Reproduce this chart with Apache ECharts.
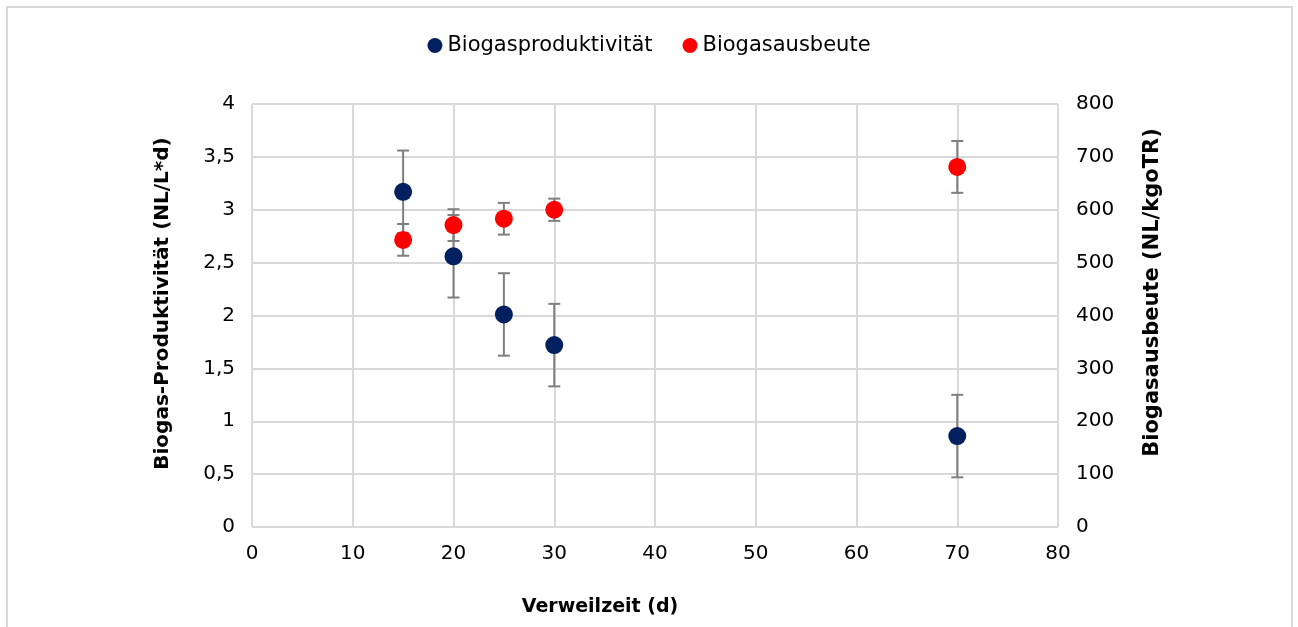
<!DOCTYPE html>
<html>
<head>
<meta charset="utf-8">
<script src="https://cdn.jsdelivr.net/npm/echarts@6/dist/echarts.min.js"></script>
<style>
  html, body { margin: 0; padding: 0; background: #fff; }
  #chart { width: 1298px; height: 627px; }
</style>
</head>
<body>
<div id="chart"></div>
<script>
(function() {
  var font = 'DejaVu Sans, Liberation Sans, Arial, sans-serif';
  var ink = '#000000';
  var rule = '#d9d9d9';
  var errColor = '#7f7f7f';
  var blue = '#002060';
  var red = '#ff0000';

  // Verweilzeit (d)
  var xValues = [15, 20, 25, 30, 70];
  // Biogasproduktivität (NL/L*d) and standard deviation
  var prodValues = [3.17, 2.56, 2.01, 1.72, 0.86];
  var prodErr = [0.39, 0.39, 0.39, 0.39, 0.39];
  // Biogasausbeute (NL/kgoTR) and standard deviation
  var yieldValues = [543, 571, 583, 600, 681];
  var yieldErr = [30, 30, 30, 21, 49];

  var seriesNames = ['Biogasproduktivität', 'Biogasausbeute'];

  function pairs(ys) {
    return xValues.map(function(x, i) { return [x, ys[i]]; });
  }
  function ranges(ys, err) {
    return xValues.map(function(x, i) { return [x, ys[i] - err[i], ys[i] + err[i]]; });
  }

  function renderErr(params, api) {
    var top = api.coord([api.value(0), api.value(2)]);
    var bot = api.coord([api.value(0), api.value(1)]);
    var cap = 6;
    var st = { stroke: errColor, lineWidth: 2 };
    return {
      type: 'group',
      children: [
        { type: 'line', shape: { x1: top[0], y1: top[1], x2: bot[0], y2: bot[1] }, style: st },
        { type: 'line', shape: { x1: top[0] - cap, y1: top[1], x2: top[0] + cap, y2: top[1] }, style: st },
        { type: 'line', shape: { x1: bot[0] - cap, y1: bot[1], x2: bot[0] + cap, y2: bot[1] }, style: st }
      ]
    };
  }

  var chart = echarts.init(document.getElementById('chart'), null, { renderer: 'canvas' });

  chart.setOption({
    animation: false,
    textStyle: { fontFamily: font },
    legend: {
      data: seriesNames,
      top: 30,
      left: 'center',
      icon: 'circle',
      itemWidth: 15,
      itemHeight: 15,
      itemGap: 30,
      textStyle: { color: ink, fontSize: 21, fontFamily: font }
    },
    grid: { left: 252, right: 240, top: 104, bottom: 100 },
    xAxis: {
      type: 'value',
      min: 0,
      max: 80,
      interval: 10,
      axisLine: { show: false },
      axisTick: { show: false },
      axisLabel: { color: ink, fontSize: 20, margin: 17 },
      splitLine: { lineStyle: { color: rule, width: 2 } }
    },
    yAxis: [
      {
        type: 'value',
        min: 0,
        max: 4,
        interval: 0.5,
        name: 'Biogas-Produktivität (NL/L*d)',
        nameLocation: 'middle',
        nameRotate: 90,
        nameGap: 79,
        nameTextStyle: { color: ink, fontSize: 20, fontWeight: 'bold', padding: [0, 0, 0, 24] },
        axisLine: { show: false },
        axisTick: { show: false },
        axisLabel: {
          color: ink, fontSize: 20, margin: 17,
          formatter: function(v) { return String(v).replace('.', ','); }
        },
        splitLine: { lineStyle: { color: rule, width: 2 } }
      },
      {
        type: 'value',
        min: 0,
        max: 800,
        interval: 100,
        position: 'right',
        name: 'Biogasausbeute (NL/kgoTR)',
        nameLocation: 'middle',
        nameRotate: 90,
        nameGap: 84,
        nameTextStyle: { color: ink, fontSize: 21, fontWeight: 'bold', padding: [0, 0, 0, 46] },
        axisLine: { show: false },
        axisTick: { show: false },
        axisLabel: { color: ink, fontSize: 20, margin: 18 },
        splitLine: { show: false }
      }
    ],
    graphic: [
      {
        type: 'rect',
        shape: { x: 7, y: 7, width: 1285, height: 640 },
        style: { fill: null, stroke: rule, lineWidth: 2 },
        silent: true
      },
      {
        type: 'text',
        x: 600,
        y: 607,
        style: {
          text: 'Verweilzeit (d)',
          fill: ink,
          font: 'bold 19px ' + font,
          textAlign: 'center',
          textVerticalAlign: 'middle'
        }
      }
    ],
    series: [
      {
        type: 'custom',
        yAxisIndex: 0,
        renderItem: renderErr,
        data: ranges(prodValues, prodErr),
        z: 1
      },
      {
        type: 'custom',
        yAxisIndex: 1,
        renderItem: renderErr,
        data: ranges(yieldValues, yieldErr),
        z: 1
      },
      {
        name: seriesNames[0],
        type: 'scatter',
        yAxisIndex: 0,
        symbolSize: 18,
        itemStyle: { color: blue, opacity: 1 },
        data: pairs(prodValues),
        z: 3
      },
      {
        name: seriesNames[1],
        type: 'scatter',
        yAxisIndex: 1,
        symbolSize: 18,
        itemStyle: { color: red, opacity: 1 },
        data: pairs(yieldValues),
        z: 3
      }
    ]
  });

  window.addEventListener('resize', function() { chart.resize(); });
})();
</script>
</body>
</html>
